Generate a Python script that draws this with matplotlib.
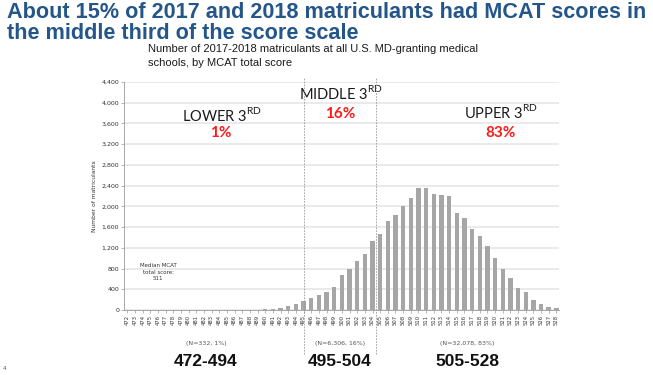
import matplotlib
matplotlib.use("Agg")
import matplotlib.pyplot as plt
import numpy as np

scores = list(range(472, 529))
counts = [1, 1, 1, 1, 1, 1, 2, 2, 2, 2, 3, 3, 4, 4, 5, 6, 8,
          7, 13, 23, 48, 70, 125,
          165, 224, 282, 352, 442, 666, 794, 948, 1090, 1327,
          1472, 1722, 1837, 2016, 2157, 2355, 2355, 2240, 2221, 2202,
          1869, 1780, 1562, 1421, 1229, 1011, 800, 608, 429, 339,
          186, 115, 64, 32]
yticks = list(range(0, 4401, 400))

groups = ["472-494", "495-504", "505-528"]
group_n = ["(N=332, 1%)", "(N=6,306, 16%)", "(N=32,078, 83%)"]
third_names = ["LOWER", "MIDDLE", "UPPER"]
third_pct = ["1%", "16%", "83%"]

TITLE_COLOR = "#24568a"
BAR_COLOR = "#a6a6a6"
RED = "#ff1a1a"

fig = plt.figure(figsize=(6.53, 3.75), dpi=100)
ax = fig.add_axes([124 / 653, 1 - 310 / 375, 435 / 653, 228 / 375])

x = np.arange(len(scores))
ax.bar(x, counts, width=0.57, color=BAR_COLOR, zorder=3)

ax.set_xlim(-0.45, 56.35)
ax.set_ylim(0, 4400)
ax.set_yticks(yticks)
ax.set_yticklabels([f"{v:,}" for v in yticks], fontsize=4.5, color="#333333")
ax.set_xticks(x)
ax.set_xticklabels([str(s) for s in scores], rotation=90, fontsize=3.8, color="#333333")
ax.tick_params(axis="y", length=2, width=0.5, color="#999999", pad=1.5)
ax.tick_params(axis="x", length=2, width=0.5, color="#999999", pad=1.5)
ax.grid(axis="y", color="#e8e8e8", linewidth=1.3, zorder=0)
for side in ["top", "right"]:
    ax.spines[side].set_visible(False)
ax.spines["left"].set_color("#999999")
ax.spines["left"].set_linewidth(0.6)
ax.spines["bottom"].set_color("#999999")
ax.spines["bottom"].set_linewidth(0.6)
ax.set_ylabel("Number of matriculants", fontsize=4.3, color="#333333", labelpad=3)

# dashed separators between the thirds
for pos in [scores.index(495), scores.index(504) + 0.5]:
    ax.plot([pos, pos], [-850, 4480], color="#999999", linestyle=(0, (2, 1.5)),
            linewidth=0.6, clip_on=False, zorder=4)

# labels for each third
head_x = [12.3, 27.9, 48.8]
head_y = [3770, 4190, 3820]
pct_y = [3410, 3790, 3410]
for name, pct, hx, hy, py in zip(third_names, third_pct, head_x, head_y, pct_y):
    ax.text(hx, hy, name + r" 3$^{\mathregular{RD}}$", ha="center", va="center",
            fontsize=10.5, family="Lato", color="#1a1a1a")
    ax.text(hx - 0.1, py, pct, ha="center", va="center", fontsize=11,
            family="Lato", fontweight="bold", color=RED)

ax.text(4.0, 900, "Median MCAT\ntotal score:\n511", ha="center", va="top",
        fontsize=4, color="#333333", linespacing=1.3)

# group ranges under the axis
grp_x = [206, 340, 467]
for g, n, gx in zip(groups, group_n, grp_x):
    fig.text(gx / 653, 1 - 344 / 375, n, ha="center", va="center",
             fontsize=4.5, color="#555555")
    fig.text(gx / 653, 1 - 362 / 375, g, ha="center", va="center",
             fontsize=12.5, fontweight="bold", family="Liberation Sans", color="#111111")

fig.text(7 / 653, 1 - 2 / 375,
         "About 15% of 2017 and 2018 matriculants had MCAT scores in\nthe middle third of the score scale",
         ha="left", va="top", fontsize=15.6, fontweight="bold", family="Liberation Sans",
         color=TITLE_COLOR, linespacing=0.98)
fig.text(148 / 653, 1 - 44 / 375,
         "Number of 2017-2018 matriculants at all U.S. MD-granting medical\nschools, by MCAT total score",
         ha="left", va="top", fontsize=8.0, family="Liberation Sans", color="#1a1a1a",
         linespacing=1.5)
fig.text(3 / 653, 1 - 368 / 375, "4", ha="left", va="center", fontsize=4, color="#555555")

fig.savefig("out.png", dpi=100)
